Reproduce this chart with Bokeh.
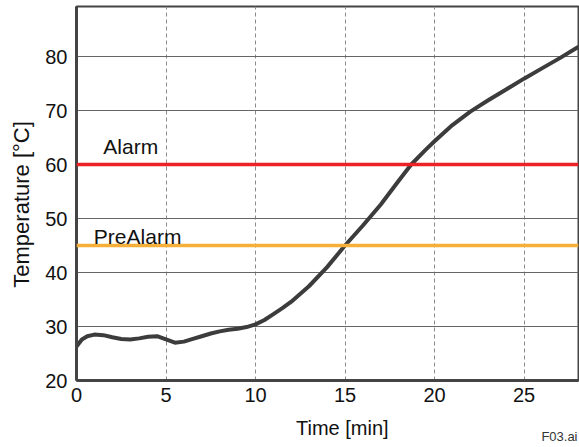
from bokeh.plotting import figure
from bokeh.models import FixedTicker, Label, LinearAxis, Range1d, Span
from bokeh.embed import file_html
from bokeh.resources import INLINE

# ---- data ----
time_min = [0, 0.3, 0.6, 1.0, 1.5, 2.0, 2.5, 3.0, 3.5, 4.0, 4.5, 5.0, 5.5, 6.0,
            6.5, 7.0, 7.5, 8.0, 8.5, 9.0, 9.5, 10.0, 10.5, 11.0, 11.5, 12.0,
            13.0, 14.0, 15.0, 16.0, 17.0, 18.0, 18.7, 19.5, 20.0, 21.0, 22.0,
            23.0, 24.0, 25.0, 26.0, 27.0, 28.0]
temperature = [26.3, 27.6, 28.2, 28.5, 28.4, 28.0, 27.7, 27.6, 27.8, 28.1, 28.2,
               27.6, 27.0, 27.2, 27.7, 28.2, 28.7, 29.1, 29.4, 29.6, 29.9, 30.4,
               31.2, 32.3, 33.4, 34.6, 37.5, 41.0, 45.0, 48.7, 52.6, 57.0, 60.0,
               62.7, 64.3, 67.3, 69.8, 71.9, 73.9, 75.9, 77.8, 79.7, 81.7]
alarm_level = 60
prealarm_level = 45
alarm_labels = ["Alarm", "PreAlarm"]
x_ticks = [0, 5, 10, 15, 20, 25]
y_ticks = [20, 30, 40, 50, 60, 70, 80]
x_label = "Time [min]"
y_label = "Temperature [°C]"
footnote = "F03.ai"

# where the titles sit along their axes (in axis units)
x_label_pos = 14.85
footnote_pos = 26.98
y_label_pos = 52.6

FONT = "Liberation Sans"

p = figure(width=579, height=447, output_backend="svg", toolbar_location=None,
           min_border_left=76, min_border_right=1, min_border_top=6,
           min_border_bottom=67,
           x_range=Range1d(0, 502 / 17.9), y_range=Range1d(20, 20 + 374 / 5.4))

p.background_fill_color = "white"
p.border_fill_color = "white"
p.outline_line_color = "#444444"
p.outline_line_width = 2


def plain(ax):
    ax.major_tick_line_color = None
    ax.minor_tick_line_color = None
    ax.major_tick_out = 0
    ax.major_tick_in = 0
    ax.minor_tick_out = 0
    ax.minor_tick_in = 0
    ax.major_label_text_font = FONT
    ax.major_label_text_color = "#111111"


# main axes
for ax in (p.xaxis[0], p.yaxis[0]):
    plain(ax)
    ax.axis_line_color = "#444444"
    ax.axis_line_width = 3
    ax.major_label_text_font_size = "20px"
p.xaxis[0].ticker = FixedTicker(ticks=x_ticks)
p.yaxis[0].ticker = FixedTicker(ticks=y_ticks)
p.xaxis[0].major_label_standoff = 7
p.yaxis[0].major_label_standoff = 9

# title axes (text only)
xl = LinearAxis(ticker=FixedTicker(ticks=[x_label_pos]),
                major_label_overrides={x_label_pos: x_label})
plain(xl)
xl.axis_line_color = None
xl.major_label_text_font_size = "20px"
xl.major_label_standoff = 12
p.add_layout(xl, "below")

fn = LinearAxis(ticker=FixedTicker(ticks=[footnote_pos]),
                major_label_overrides={footnote_pos: footnote})
plain(fn)
fn.axis_line_color = None
fn.major_label_text_font_size = "13px"
fn.major_label_text_color = "#333333"
fn.major_label_standoff = -13
p.add_layout(fn, "below")

yl = LinearAxis(ticker=FixedTicker(ticks=[y_label_pos]),
                major_label_overrides={y_label_pos: y_label},
                major_label_orientation="vertical")
plain(yl)
yl.axis_line_color = None
yl.major_label_text_font_size = "22px"
yl.major_label_standoff = 8
p.add_layout(yl, "left")

# grids
p.xgrid[0].ticker = FixedTicker(ticks=x_ticks[1:])
p.xgrid[0].grid_line_color = "#8a8a8a"
p.xgrid[0].grid_line_dash = "4 3"
p.xgrid[0].grid_line_width = 1
p.ygrid[0].ticker = FixedTicker(ticks=y_ticks[1:])
p.ygrid[0].grid_line_color = "#666666"
p.ygrid[0].grid_line_width = 1

# threshold lines
p.add_layout(Span(location=alarm_level, dimension="width",
                  line_color="#ec2227", line_width=3.5))
p.add_layout(Span(location=prealarm_level, dimension="width",
                  line_color="#f6b03a", line_width=3.5))

# curve
p.line(time_min, temperature, line_color="#3c3c3c", line_width=4,
       line_join="round", line_cap="round")

# threshold labels
p.add_layout(Label(x=1.5, y=alarm_level + 3.4, text=alarm_labels[0],
                   text_font=FONT, text_font_size="21px", text_color="#111111",
                   text_baseline="middle"))
p.add_layout(Label(x=0.97, y=prealarm_level + 1.6, text=alarm_labels[1],
                   text_font=FONT, text_font_size="21px", text_color="#111111",
                   text_baseline="middle"))

open("out.html", "w").write(file_html(p, INLINE))
